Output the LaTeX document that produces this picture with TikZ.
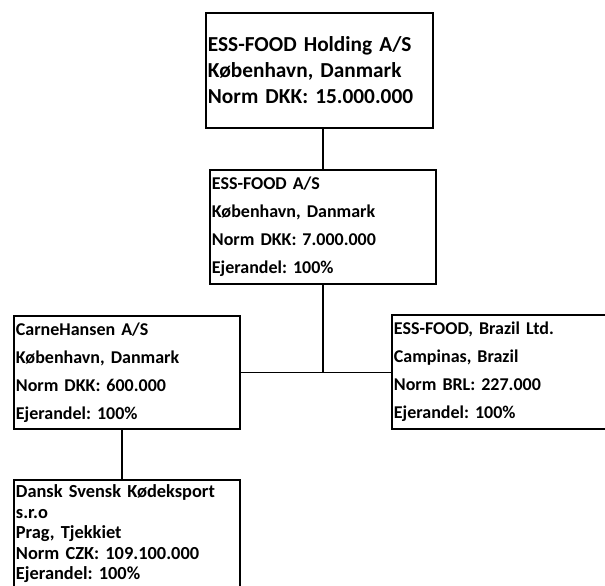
\documentclass[tikz,border=0pt]{standalone}
\usepackage{fontspec}
\setmainfont{Carlito}
\frenchspacing
\usepackage{tikz}
\usetikzlibrary{positioning,calc}

\begin{document}
\begin{tikzpicture}[x=0.75pt, y=-0.75pt,
  firma/.style={draw, line width=1.4pt, anchor=north west, align=left,
    inner xsep=1.5pt, inner ysep=0pt,
    font=\bfseries\fontsize{13.5}{21}\selectfont},
  link/.style={line width=1.4pt}]

  % Page frame, boxes on the right and bottom run past it
  \useasboundingbox (0,0) rectangle (605,585);
  \clip (0,0) rectangle (605,585);

  % Holding on top
  \node[firma, minimum height=86.25pt, text width=167.25pt,
    font=\bfseries\fontsize{16}{19.5}\selectfont] (holding) at (205,12)
    {ESS-FOOD Holding A/S\\ København, Danmark\\ Norm DKK: 15.000.000};

  % Second row
  \node[firma, minimum height=85.5pt, text width=166.5pt] (essfood) at (209,169)
    {ESS-FOOD A/S\\ København, Danmark\\ Norm DKK: 7.000.000\\ Ejerandel: 100\%};

  % Third row
  \node[firma, minimum height=84.75pt, text width=166.5pt] (carne) at (13,315)
    {CarneHansen A/S\\ København, Danmark\\ Norm DKK: 600.000\\ Ejerandel: 100\%};
  \node[firma, minimum height=85.5pt, text width=165pt] (brazil) at (391,314)
    {ESS-FOOD, Brazil Ltd.\\ Campinas, Brazil\\ Norm BRL: 227.000\\ Ejerandel: 100\%};

  % Bottom row
  \node[firma, minimum height=81pt, text width=166.5pt,
    font=\bfseries\fontsize{13.8}{15.4}\selectfont] (dansk) at (13,479)
    {Dansk Svensk Kødeksport\\ s.r.o\\ Prag, Tjekkiet\\ Norm CZK: 109.100.000\\ Ejerandel: 100\%};

  % Ownership lines
  \draw[link] (essfood.north) -- (essfood.north |- holding.south);
  \draw[link] (essfood.south) -- (essfood.south |- carne.east);
  \draw[link] (carne.east) -- (carne.east -| brazil.west);
  \draw[link] ([xshift=-4pt]carne.south) -- ([xshift=-4pt]dansk.north);
\end{tikzpicture}
\end{document}
